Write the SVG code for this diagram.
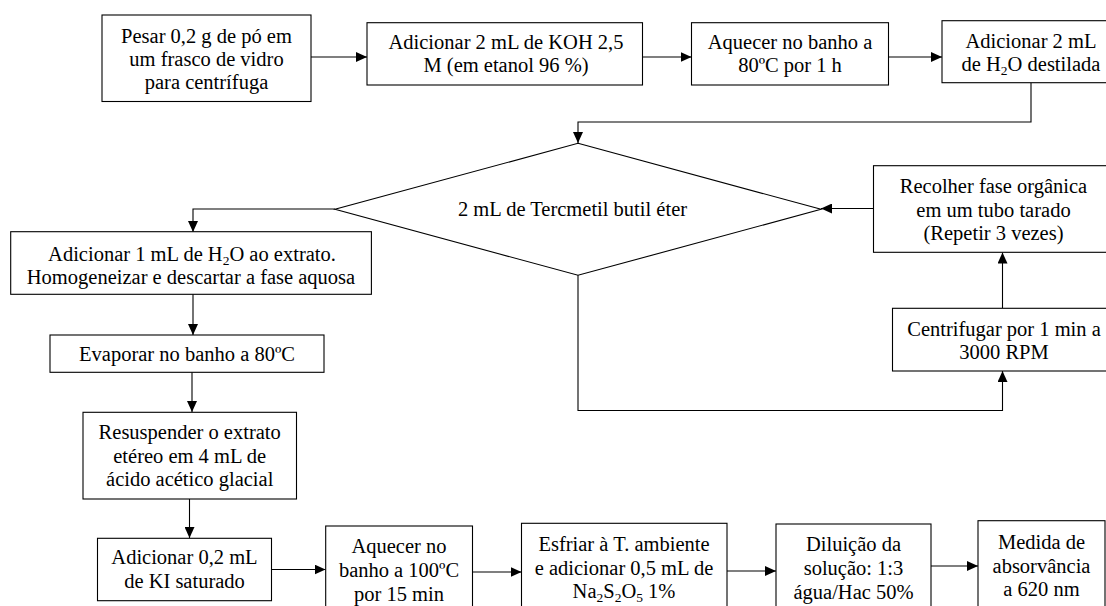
<svg xmlns="http://www.w3.org/2000/svg" width="1106" height="606" viewBox="0 0 1106 606" font-family="Liberation Serif" font-size="20.5">
<style>
.b{fill:#fff;stroke:#000;stroke-width:1.1}
.t{fill:#000;text-anchor:middle}
.c{fill:none;stroke:#000;stroke-width:1.1}
</style>
<defs>
<marker id="ah" markerUnits="userSpaceOnUse" markerWidth="12" markerHeight="10" refX="11" refY="5" orient="auto">
<path d="M0,0 L11,5 L0,10 z" fill="#000"/>
</marker>
</defs>
<rect width="1106" height="606" fill="#fff"/>
<g id="connectors">
<line class="c" x1="311" y1="57" x2="367" y2="57" marker-end="url(#ah)"/>
<line class="c" x1="642.5" y1="57" x2="691.5" y2="57" marker-end="url(#ah)"/>
<line class="c" x1="888.5" y1="57" x2="942" y2="57" marker-end="url(#ah)"/>
<polyline class="c" points="1031,83 1031,122 578,122 578,143" marker-end="url(#ah)"/>
<polyline class="c" points="335,209 193,209 193,232" marker-end="url(#ah)"/>
<line class="c" x1="193" y1="294" x2="193" y2="335" marker-end="url(#ah)"/>
<line class="c" x1="192" y1="372" x2="192" y2="412" marker-end="url(#ah)"/>
<line class="c" x1="189.5" y1="499" x2="189.5" y2="538" marker-end="url(#ah)"/>
<line class="c" x1="271.5" y1="569.5" x2="325.5" y2="569.5" marker-end="url(#ah)"/>
<line class="c" x1="472.5" y1="572" x2="521.5" y2="572" marker-end="url(#ah)"/>
<line class="c" x1="727" y1="571" x2="776" y2="571" marker-end="url(#ah)"/>
<line class="c" x1="931" y1="566" x2="978" y2="566" marker-end="url(#ah)"/>
<polyline class="c" points="578,275 578,410.5 1002.5,410.5 1002.5,371" marker-end="url(#ah)"/>
<line class="c" x1="1002.5" y1="308" x2="1002.5" y2="252.5" marker-end="url(#ah)"/>
<line class="c" x1="873.5" y1="208.5" x2="821" y2="208.5" marker-end="url(#ah)"/>
</g>
<g id="n1"><rect class="b" x="102" y="15" width="209" height="86.5"/>
<text class="t" font-family="Liberation Serif" x="206.5" y="43">Pesar 0,2 g de pó em</text>
<text class="t" font-family="Liberation Serif" x="206.5" y="66">um frasco de vidro</text>
<text class="t" font-family="Liberation Serif" x="206.5" y="89">para centrífuga</text></g>
<g id="n2"><rect class="b" x="367" y="22.7" width="275.5" height="62.3"/>
<text class="t" font-family="Liberation Serif" x="506" y="49">Adicionar 2 mL de KOH 2,5</text>
<text class="t" font-family="Liberation Serif" x="506" y="72">M (em etanol 96 %)</text></g>
<g id="n3"><rect class="b" x="691.5" y="22.7" width="197" height="62.3"/>
<text class="t" font-family="Liberation Serif" x="790" y="49">Aquecer no banho a</text>
<text class="t" font-family="Liberation Serif" x="790" y="72">80ºC por 1 h</text></g>
<g id="n4"><rect class="b" x="942" y="20.7" width="180" height="62"/>
<text class="t" font-family="Liberation Serif" x="1031" y="48">Adicionar 2 mL</text>
<text class="t" font-family="Liberation Serif" x="1031" y="71">de H<tspan font-size="13.5" dy="4">2</tspan><tspan dy="-4">O destilada</tspan></text></g>
<g id="n5"><polygon class="b" points="578,143.3 821,209.3 578,275.3 335,209.3"/>
<text class="t" font-family="Liberation Serif" x="572.5" y="215.5">2 mL de Tercmetil butil éter</text></g>
<g id="n6"><rect class="b" x="10.7" y="231.7" width="360.7" height="62.6"/>
<text class="t" font-family="Liberation Serif" x="192" y="261">Adicionar 1 mL de H<tspan font-size="13.5" dy="4">2</tspan><tspan dy="-4">O ao extrato.</tspan></text>
<text class="t" font-family="Liberation Serif" x="191" y="284">Homogeneizar e descartar a fase aquosa</text></g>
<g id="n7"><rect class="b" x="50" y="335" width="274" height="37.3"/>
<text class="t" font-family="Liberation Serif" x="187" y="360.5">Evaporar no banho a 80ºC</text></g>
<g id="n8"><rect class="b" x="83" y="412.3" width="213.5" height="86.7"/>
<text class="t" font-family="Liberation Serif" x="189.7" y="439">Resuspender o extrato</text>
<text class="t" font-family="Liberation Serif" x="189.7" y="462.5">etéreo em 4 mL de</text>
<text class="t" font-family="Liberation Serif" x="189.7" y="486">ácido acético glacial</text></g>
<g id="n9"><rect class="b" x="97.5" y="538.3" width="174" height="62.4"/>
<text class="t" font-family="Liberation Serif" x="184.5" y="564">Adicionar 0,2 mL</text>
<text class="t" font-family="Liberation Serif" x="184.5" y="587.5">de KI saturado</text></g>
<g id="n10"><rect class="b" x="325.7" y="526" width="146.8" height="100"/>
<text class="t" font-family="Liberation Serif" x="399" y="553">Aquecer no</text>
<text class="t" font-family="Liberation Serif" x="399" y="577">banho a 100ºC</text>
<text class="t" font-family="Liberation Serif" x="399" y="600.5">por 15 min</text></g>
<g id="n11"><rect class="b" x="521.5" y="523.3" width="205.5" height="100"/>
<text class="t" font-family="Liberation Serif" x="624" y="551">Esfriar à T. ambiente</text>
<text class="t" font-family="Liberation Serif" x="624" y="574.5">e adicionar 0,5 mL de</text>
<text class="t" font-family="Liberation Serif" x="624" y="598">Na<tspan font-size="13.5" dy="4">2</tspan><tspan dy="-4">S</tspan><tspan font-size="13.5" dy="4">2</tspan><tspan dy="-4">O</tspan><tspan font-size="13.5" dy="4">5</tspan><tspan dy="-4"> 1%</tspan></text></g>
<g id="n12"><rect class="b" x="776" y="524" width="155" height="100"/>
<text class="t" font-family="Liberation Serif" x="853.5" y="551">Diluição da</text>
<text class="t" font-family="Liberation Serif" x="853.5" y="575">solução: 1:3</text>
<text class="t" font-family="Liberation Serif" x="853.5" y="599">água/Hac 50%</text></g>
<g id="n13"><rect class="b" x="978" y="520.7" width="127" height="100"/>
<text class="t" font-family="Liberation Serif" x="1041.5" y="549">Medida de</text>
<text class="t" font-family="Liberation Serif" x="1041.5" y="572.5">absorvância</text>
<text class="t" font-family="Liberation Serif" x="1041.5" y="596">a 620 nm</text></g>
<g id="n14"><rect class="b" x="873.5" y="165.7" width="250" height="86.6"/>
<text class="t" font-family="Liberation Serif" x="993.5" y="193">Recolher fase orgânica</text>
<text class="t" font-family="Liberation Serif" x="993.5" y="216.5">em um tubo tarado</text>
<text class="t" font-family="Liberation Serif" x="993.5" y="240">(Repetir 3 vezes)</text></g>
<g id="n15"><rect class="b" x="892.5" y="308.3" width="230" height="62.7"/>
<text class="t" font-family="Liberation Serif" x="1004" y="336">Centrifugar por 1 min a</text>
<text class="t" font-family="Liberation Serif" x="1004" y="359">3000 RPM</text></g>
</svg>
